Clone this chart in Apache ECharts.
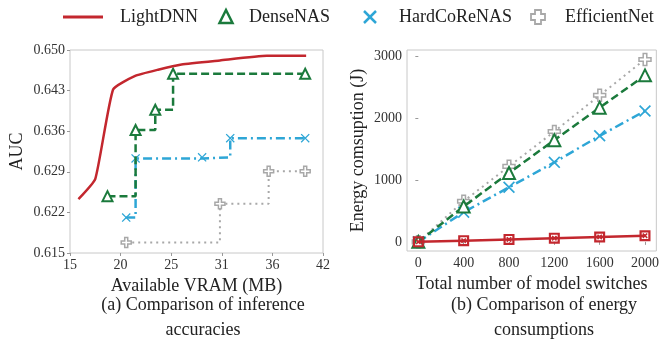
<!DOCTYPE html>
<html>
<head>
<meta charset="utf-8">
<script src="https://cdn.jsdelivr.net/npm/echarts@6/dist/echarts.min.js"></script>
<style>
  html, body { margin: 0; padding: 0; background: #fff; }
  #chart { width: 662px; height: 346px; }
</style>
</head>
<body>
<div id="chart"></div>
<script>
// (a) AUC against available VRAM
const vramTicks = [15, 20.4, 25.8, 31.2, 36.6, 42];
const aucTicks = [0.615, 0.622, 0.629, 0.636, 0.643, 0.650];
const lightDnnAuc = [[15.9, 0.6243], [17.7, 0.6278], [19.6, 0.6432], [21.9, 0.6455], [24.4, 0.6466], [26.9, 0.6475], [31.0, 0.6482], [36.0, 0.6490], [40.2, 0.6490]];
const denseNasAuc = [[19.0, 0.6248], [22.0, 0.6362], [24.1, 0.6397], [26.0, 0.6459], [40.1, 0.6459]];
const hardCoReNasAuc = [[21.0, 0.6211], [22.0, 0.6313], [29.1, 0.6315], [32.1, 0.6348], [40.1, 0.6348]];
const efficientNetAuc = [[21.0, 0.6168], [31.0, 0.6235], [36.2, 0.6291], [40.1, 0.6291]];

// (b) energy against number of model switches
const switches = [0, 400, 800, 1200, 1600, 2000];
const energyTicks = [0, 1000, 2000, 3000];
const lightDnnEnergy = [0, 20, 40, 60, 80, 100];
const denseNasEnergy = [0, 573, 1116, 1648, 2174, 2697];
const hardCoReNasEnergy = [0, 481, 884, 1288, 1718, 2121];
const efficientNetEnergy = [0, 658, 1223, 1787, 2374, 2955];

const RED = '#c3272e', GREEN = '#1b7a3c', CYAN = '#2ea6d6', GRAY = '#a8a8a8';
const FONT = 'Liberation Serif';
const TXT = '#222';

const SYM_X = 'path://M0,2L2,0L10,8L18,0L20,2L12,10L20,18L18,20L10,12L2,20L0,18L8,10Z';
const SYM_PLUS = 'path://M7,0H13V7H20V13H13V20H7V13H0V7H7Z';
const SYM_BOXX = 'path://M0,0H20V20H0Z M4,4V16H16V4Z M5,7L7,5L10,8L13,5L15,7L12,10L15,13L13,15L10,12L7,15L5,13L8,10Z';

const pair = (xs, ys) => xs.map((x, i) => [x, ys[i]]);

function axisCommon() {
  return {
    axisLine: { show: false },
    splitLine: { show: false },
    axisTick: { show: true, inside: false, length: 3, lineStyle: { color: '#999' } },
    axisLabel: { color: '#333', fontFamily: FONT, fontSize: 14, margin: 5 },
    nameTextStyle: { color: TXT, fontFamily: FONT, fontSize: 18 }
  };
}

function mk(base, extra) {
  const o = axisCommon();
  Object.assign(o, base);
  o.axisTick = Object.assign(o.axisTick, extra.tick || {});
  o.axisLabel = Object.assign(o.axisLabel, extra.label || {});
  return o;
}

const plain = v => String(v);
const triStyle = (size) => ({ symbol: 'triangle', symbolSize: size, itemStyle: { color: '#fff', borderColor: GREEN, borderWidth: 2 } });
const xStyle = (size) => ({ symbol: SYM_X, symbolSize: size, itemStyle: { color: CYAN, borderWidth: 0 } });
const plusStyle = (size) => ({ symbol: SYM_PLUS, symbolSize: size, itemStyle: { color: '#fff', borderColor: GRAY, borderWidth: 1.5 } });
const serifText = (text, x, y, extra) => ({ type: 'text', x, y,
  style: Object.assign({ text, fontFamily: FONT, fontSize: 18, fill: TXT, verticalAlign: 'middle' }, extra || {}) });

const option = {
  animation: false,
  backgroundColor: '#fff',
  textStyle: { fontFamily: FONT },
  grid: [
    { left: 70, top: 50, width: 253, height: 203, show: true, borderColor: '#c8c8c8', borderWidth: 1, backgroundColor: 'transparent' },
    { left: 407, top: 50, width: 252, height: 201, show: true, borderColor: '#c8c8c8', borderWidth: 1, backgroundColor: 'transparent' }
  ],
  xAxis: [
    mk({ type: 'value', gridIndex: 0, min: 15, max: 42, name: 'Available VRAM (MB)', nameLocation: 'middle', nameGap: 18 },
       { tick: { customValues: vramTicks }, label: { customValues: vramTicks, formatter: v => String(Math.floor(v + 1e-9)) } }),
    mk({ type: 'value', gridIndex: 1, min: -100, max: 2100, name: 'Total number of model switches', nameLocation: 'middle', nameGap: 20 },
       { tick: { customValues: switches }, label: { customValues: switches, formatter: plain } })
  ],
  yAxis: [
    mk({ type: 'value', gridIndex: 0, min: 0.615, max: 0.650, name: 'AUC', nameLocation: 'middle', nameGap: 44 },
       { tick: { customValues: aucTicks }, label: { customValues: aucTicks, formatter: v => v.toFixed(3) } }),
    mk({ type: 'value', gridIndex: 1, min: -148, max: 3108, name: 'Energy comsuption (J)', nameLocation: 'middle', nameGap: 40 },
       { tick: { customValues: energyTicks }, label: { customValues: energyTicks, formatter: plain } })
  ],
  series: [
    // (a)
    Object.assign({ type: 'line', name: 'EfficientNet', xAxisIndex: 0, yAxisIndex: 0, step: 'end', data: efficientNetAuc, z: 2,
      lineStyle: { color: GRAY, width: 2, type: [2, 4] } }, plusStyle(10)),
    Object.assign({ type: 'line', name: 'HardCoReNAS', xAxisIndex: 0, yAxisIndex: 0, step: 'end', data: hardCoReNasAuc, z: 3,
      lineStyle: { color: CYAN, width: 2.5, type: [9, 4, 2, 4] } }, xStyle(9)),
    Object.assign({ type: 'line', name: 'DenseNAS', xAxisIndex: 0, yAxisIndex: 0, step: 'end', data: denseNasAuc, z: 4,
      lineStyle: { color: GREEN, width: 2.5, type: [8, 4] } }, triStyle(10)),
    { type: 'line', name: 'LightDNN', xAxisIndex: 0, yAxisIndex: 0, data: lightDnnAuc, z: 5, showSymbol: false, symbol: 'none',
      smooth: 0.15, lineStyle: { color: RED, width: 2.5 } },
    // (b)
    Object.assign({ type: 'line', name: 'EfficientNet', xAxisIndex: 1, yAxisIndex: 1, data: pair(switches, efficientNetEnergy), z: 2,
      lineStyle: { color: GRAY, width: 2, type: [2, 4] } }, plusStyle(12)),
    Object.assign({ type: 'line', name: 'HardCoReNAS', xAxisIndex: 1, yAxisIndex: 1, data: pair(switches, hardCoReNasEnergy), z: 3,
      lineStyle: { color: CYAN, width: 2.5, type: [9, 4, 2, 4] } }, xStyle(12)),
    Object.assign({ type: 'line', name: 'DenseNAS', xAxisIndex: 1, yAxisIndex: 1, data: pair(switches, denseNasEnergy), z: 4,
      lineStyle: { color: GREEN, width: 2.5, type: [8, 4] } }, triStyle(12)),
    { type: 'line', name: 'LightDNN', xAxisIndex: 1, yAxisIndex: 1, data: pair(switches, lightDnnEnergy), z: 5,
      symbol: SYM_BOXX, symbolSize: 11, itemStyle: { color: RED, borderWidth: 0 }, lineStyle: { color: RED, width: 2.5 } }
  ],
  graphic: [
    // legend row
    { type: 'line', shape: { x1: 63, y1: 17, x2: 103, y2: 17 }, style: { stroke: RED, lineWidth: 3 } },
    serifText('LightDNN', 120, 17),
    { type: 'polygon', shape: { points: [[226, 10], [232.5, 23], [219.5, 23]] }, style: { stroke: GREEN, lineWidth: 2.5, fill: 'none' } },
    serifText('DenseNAS', 249, 17),
    { type: 'line', shape: { x1: 364, y1: 11, x2: 376, y2: 23 }, style: { stroke: CYAN, lineWidth: 2.5 } },
    { type: 'line', shape: { x1: 376, y1: 11, x2: 364, y2: 23 }, style: { stroke: CYAN, lineWidth: 2.5 } },
    serifText('HardCoReNAS', 399, 17),
    { type: 'polygon', shape: { points: [[535, 10], [541, 10], [541, 14], [545, 14], [545, 20], [541, 20], [541, 24], [535, 24], [535, 20], [531, 20], [531, 14], [535, 14]] },
      style: { stroke: GRAY, lineWidth: 1.8, fill: '#fff' } },
    serifText('EfficientNet', 565, 17),
    // sub-figure captions
    serifText('(a) Comparison of inference\naccuracies', 203, 318, { align: 'center', lineHeight: 25 }),
    serifText('(b) Comparison of energy\nconsumptions', 544, 318, { align: 'center', lineHeight: 25 })
  ]
};

echarts.init(document.getElementById('chart'), null, { renderer: 'canvas' }).setOption(option);
</script>
</body>
</html>
